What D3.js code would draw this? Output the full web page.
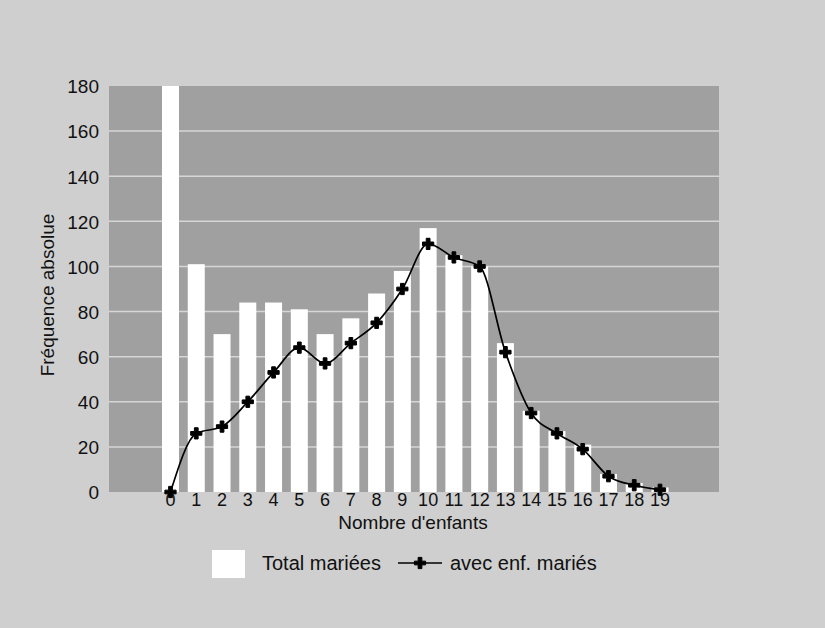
<!DOCTYPE html>
<html>
<head>
<meta charset="utf-8">
<script src="https://cdn.jsdelivr.net/npm/d3@7"></script>
<style>
  body { margin: 0; background: #cfcfcf; }
  svg text { font-family: "Liberation Sans", Arial, sans-serif; fill: #111; }
</style>
</head>
<body>
<svg id="chart"></svg>
<script>
// data
var enfants = ["0","1","2","3","4","5","6","7","8","9","10","11","12","13","14","15","16","17","18","19"];
var totalMariees = [180, 101, 70, 84, 84, 81, 70, 77, 88, 98, 117, 105, 100, 66, 36, 27, 21, 8, 4, 2];
var avecEnfMaries = [0, 26, 29, 40, 53, 64, 57, 66, 75, 90, 110, 104, 100, 62, 35, 26, 19, 7, 3, 1];
var yTicks = [0, 20, 40, 60, 80, 100, 120, 140, 160, 180];

var W = 825, H = 628;
var plot = { left: 109, right: 719, top: 86, bottom: 492 };

var svg = d3.select("#chart")
  .attr("width", W)
  .attr("height", H);

svg.append("rect")
  .attr("width", W).attr("height", H)
  .attr("fill", "#cfcfcf");

// plot area
svg.append("rect")
  .attr("x", plot.left).attr("y", plot.top)
  .attr("width", plot.right - plot.left)
  .attr("height", plot.bottom - plot.top)
  .attr("fill", "#a0a0a0");

var x = d3.scaleBand()
  .domain(enfants)
  .range([162, 668.5])
  .paddingInner(0.34);

var y = d3.scaleLinear().domain([0, 180]).range([plot.bottom, plot.top]);

// gridlines
svg.append("g")
  .selectAll("line")
  .data(yTicks.slice(1, -1))
  .enter()
  .append("line")
    .attr("x1", plot.left).attr("x2", plot.right)
    .attr("y1", function(d) { return y(d); })
    .attr("y2", function(d) { return y(d); })
    .attr("stroke", "#d6d6d6")
    .attr("stroke-width", 1.5);

// bars
svg.append("g")
  .selectAll("rect")
  .data(totalMariees)
  .enter()
  .append("rect")
    .attr("x", function(d, i) { return x(enfants[i]); })
    .attr("y", function(d) { return y(d); })
    .attr("width", x.bandwidth())
    .attr("height", function(d) { return plot.bottom - y(d); })
    .attr("fill", "#ffffff");

// y axis labels
var yAxis = svg.append("g")
  .attr("transform", "translate(" + (plot.left - 10) + ",0)")
  .call(d3.axisLeft(y).tickValues(yTicks).tickSize(0).tickPadding(0));
yAxis.select(".domain").remove();
yAxis.selectAll("text")
  .style("font-size", "19px")
  .attr("dy", "0.36em");

// x axis labels
var xAxis = svg.append("g")
  .attr("transform", "translate(0," + plot.bottom + ")")
  .call(d3.axisBottom(x).tickSize(0).tickPadding(0));
xAxis.select(".domain").remove();
xAxis.selectAll("text")
  .style("font-size", "18px")
  .attr("dy", "0.78em");

// axis titles
svg.append("text")
  .attr("transform", "translate(54,295) rotate(-90)")
  .style("text-anchor", "middle")
  .style("font-size", "19px")
  .text("Fréquence absolue");

svg.append("text")
  .attr("x", 413)
  .attr("y", 529)
  .style("text-anchor", "middle")
  .style("font-size", "19px")
  .text("Nombre d'enfants");

// line
var line = d3.line()
  .x(function(d, i) { return x(enfants[i]) + x.bandwidth() / 2; })
  .y(function(d) { return y(d); })
  .curve(d3.curveMonotoneX);

svg.append("path")
  .datum(avecEnfMaries)
  .attr("d", line)
  .attr("fill", "none")
  .attr("stroke", "#000")
  .attr("stroke-width", 1.7);

var marker = d3.symbol().type(d3.symbolCross).size(70);
svg.append("g")
  .selectAll("path")
  .data(avecEnfMaries)
  .enter()
  .append("path")
    .attr("d", marker)
    .attr("transform", function(d, i) {
      return "translate(" + (x(enfants[i]) + x.bandwidth() / 2) + "," + y(d) + ")";
    })
    .attr("fill", "#000")
    .attr("stroke", "#000")
    .attr("stroke-width", 1);

// legend
var legend = svg.append("g");
legend.append("rect")
  .attr("x", 212).attr("y", 550)
  .attr("width", 33).attr("height", 28)
  .attr("fill", "#ffffff");
legend.append("text")
  .attr("x", 262).attr("y", 570)
  .style("font-size", "20px")
  .text("Total mariées");
legend.append("line")
  .attr("x1", 398).attr("x2", 442)
  .attr("y1", 563).attr("y2", 563)
  .attr("stroke", "#000").attr("stroke-width", 1.7);
legend.append("path")
  .attr("d", marker)
  .attr("transform", "translate(420,563)")
  .attr("fill", "#000").attr("stroke", "#000").attr("stroke-width", 1);
legend.append("text")
  .attr("x", 450).attr("y", 570)
  .style("font-size", "20px")
  .text("avec enf. mariés");
</script>
</body>
</html>
